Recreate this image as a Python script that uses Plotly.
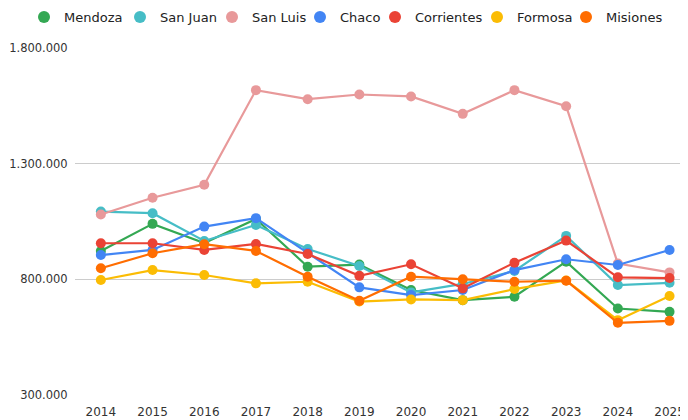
import plotly.graph_objects as go

years = [2014, 2015, 2016, 2017, 2018, 2019, 2020, 2021, 2022, 2023, 2024, 2025]

mendoza = [922700, 1039800, 957000, 1061000, 854600, 864000, 753600, 710000, 724600, 876300, 674000, 659500]
san_juan = [1093000, 1086000, 966000, 1035400, 931400, 858000, 743600, 780000, 836000, 987700, 775300, 785000]
san_luis = [1080000, 1152500, 1208900, 1617800, 1578800, 1599000, 1590500, 1515400, 1617800, 1548400, 868000, 830000]
chaco = [905000, 927000, 1028000, 1064500, 914000, 765300, 732000, 754000, 840000, 886700, 862000, 927000]
corrientes = [956000, 956000, 927000, 953000, 909700, 815000, 865000, 761000, 872000, 967400, 808700, 805600]
formosa = [797000, 840000, 818600, 782700, 789600, 704000, 713000, 710000, 758000, 795000, 623500, 727600]
misiones = [847700, 912700, 951800, 922700, 811300, 707000, 811300, 800000, 789600, 794000, 612000, 620500]

series_names = ["Mendoza", "San Juan", "San Luis", "Chaco", "Corrientes", "Formosa", "Misiones"]
series_values = [mendoza, san_juan, san_luis, chaco, corrientes, formosa, misiones]
colors = ["#34A853", "#46BDC6", "#E8999A", "#4285F4", "#EA4335", "#FBBC04", "#FF6D01"]

y_ticks = [300000, 800000, 1300000, 1800000]

# the page body has an 8px margin, so the figure is drawn 8px smaller
FIG_W, FIG_H = 680, 412

# legend item left edges (pixels within the figure)
legend_left_px = [16, 112, 204, 292, 367, 469, 558]

fig = go.Figure()
for name, vals, col in zip(series_names, series_values, colors):
    fig.add_trace(go.Scatter(
        x=years, y=vals, name=name, mode="lines+markers",
        line=dict(color=col, width=2.2),
        marker=dict(color=col, size=10),
        showlegend=False, hoverinfo="skip"))

legend_layouts = {}
for i, (name, col, lx) in enumerate(zip(series_names, colors, legend_left_px)):
    key = "legend" if i == 0 else f"legend{i + 1}"
    fig.add_trace(go.Scatter(
        x=[None], y=[None], name=name, mode="markers",
        marker=dict(color=col, size=12), showlegend=True, legend=key))
    legend_layouts[key] = dict(
        orientation="h", xref="container", yref="container",
        x=lx / FIG_W, xanchor="left", y=1 - 9 / FIG_H, yanchor="middle",
        font=dict(family="DejaVu Sans", size=13, color="#222222"),
        bgcolor="rgba(0,0,0,0)", borderwidth=0)

fig.update_layout(
    width=FIG_W, height=FIG_H,
    margin=dict(l=67, r=0, t=40, b=25, autoexpand=False),
    paper_bgcolor="white", plot_bgcolor="white",
    separators=",.",
    font=dict(family="DejaVu Sans", size=12, color="#333333"),
    xaxis=dict(range=[2013.5, 2013.5 + 613 / 51.7], tickvals=years, ticktext=[str(y) for y in years],
               showgrid=False, zeroline=False, showline=False, automargin=False,
               ticks="outside", ticklen=6, tickcolor="rgba(0,0,0,0)"),
    yaxis=dict(range=[300000, 1800000], tickvals=y_ticks, tickformat=",d",
               tickfont=dict(size=11.5),
               showgrid=True, gridcolor="#cccccc", gridwidth=1, zeroline=False, showline=False,
               automargin=False,
               ticks="outside", ticklen=4, tickcolor="rgba(0,0,0,0)"),
    **legend_layouts,
)

fig.write_html("out.html")
